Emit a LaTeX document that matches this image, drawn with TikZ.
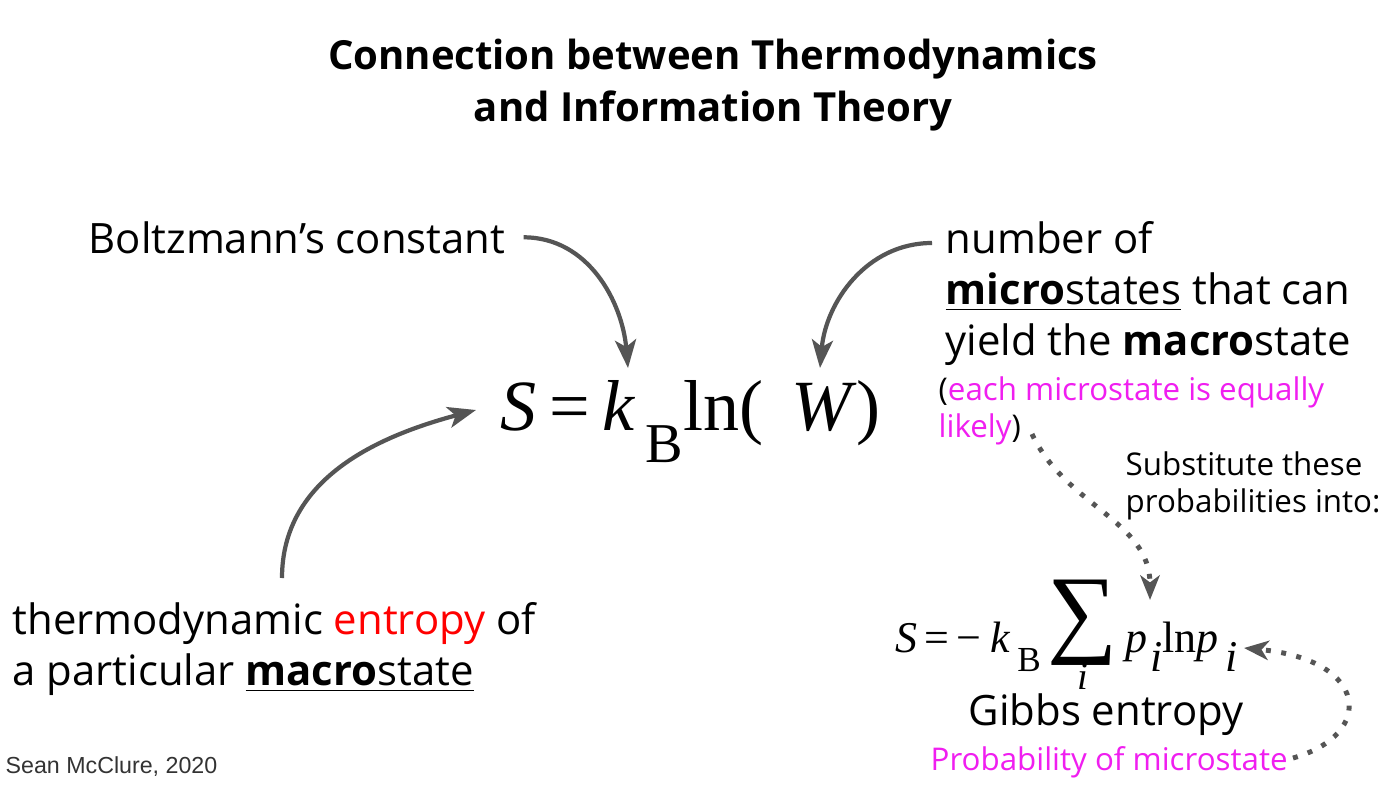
\documentclass[tikz,border=0pt]{standalone}
\usepackage{fontspec}
\setmainfont{Open Sans}
\newfontfamily\eqfont{Liberation Serif}
\newfontfamily\signfont{Liberation Sans}
\usetikzlibrary{arrows.meta}

\definecolor{arrowgray}{HTML}{555555}
\definecolor{notepink}{HTML}{F01EF0}
\definecolor{signgray}{HTML}{333333}

\tikzset{
  every node/.style={inner sep=0pt},
  bodytext/.style={font=\fontsize{11.9}{14.5}\selectfont, align=left, anchor=base west},
  smalltext/.style={font=\fontsize{8.9}{10.4}\selectfont, align=left, anchor=base west},
  curvearrow/.style={draw=arrowgray, line width=1.2pt, -{Stealth[length=8pt,width=6pt,inset=2pt]}},
  dotarrow/.style={draw=arrowgray, line width=1.4pt, dash pattern=on 1.4pt off 3pt,
    -{Stealth[length=7pt,width=5.5pt,inset=2pt]}},
}

\newcommand{\lowsub}[1]{\raisebox{-0.45em}{#1}}
\newcommand{\sumunder}{\raisebox{2pt}{\vtop{\offinterlineskip\halign{\hfil##\hfil\cr
  {\fontsize{28}{28}\selectfont ∑}\cr\noalign{\kern-0.5pt}{\fontsize{11}{11}\selectfont\textit{i}}\cr}}}}

\begin{document}
\begin{tikzpicture}[x=0.01cm,y=-0.01cm]
  \useasboundingbox[fill=white] (0,0) rectangle (1400,785);

  % title
  \node[font=\fontsize{11.4}{14.8}\selectfont\bfseries, align=center, anchor=base]
    (title) at (713,122) {Connection between Thermodynamics\\and Information Theory};

  % labels around the Boltzmann formula
  \node[bodytext] (boltz) at (88,253) {Boltzmann’s constant};
  \node[bodytext] (micro) at (945,355)
    {number of\\\underline{\textbf{micro}states} that can\\yield the \textbf{macro}state};
  \node[smalltext] (likely) at (938,437)
    {(\textcolor{notepink}{each microstate is equally}\\\textcolor{notepink}{likely})};
  \node[smalltext] (subst) at (1125,512) {Substitute these\\probabilities into:};
  \node[bodytext] (thermo) at (12,685)
    {thermodynamic \textcolor{red}{entropy} of\\a particular \underline{\textbf{macro}state}};

  % formulas
  \node[anchor=base west, font=\eqfont\fontsize{20.5}{20.5}\selectfont] (boltzeq) at (500,430)
    {\textit{S}\kern3.5pt=\kern3.5pt\textit{k}\kern3pt\lowsub{\fontsize{16}{16}\selectfont B}ln(\kern8pt\textit{W})};
  \node[anchor=base west, font=\eqfont\fontsize{12.5}{12.5}\selectfont] (gibbseq) at (895,652)
    {\textit{S}\kern2pt=\kern2pt−\kern2.5pt\textit{k}\kern2pt\lowsub{\fontsize{10}{10}\selectfont B}\kern2pt\sumunder
     \kern2pt\textit{p}\kern1pt\lowsub{\textit{i}}ln\textit{p}\kern2pt\lowsub{\textit{i}}};
  \node[bodytext] (gibbs) at (968,725) {Gibbs entropy};
  \node[smalltext, text=notepink] (prob) at (930,770) {Probability of microstate};
  \node[anchor=base west, font=\signfont\fontsize{6.6}{8}\selectfont, text=signgray]
    (sign) at (5,773) {Sean McClure, 2020};

  % arrow ends
  \coordinate (microStart) at (932,243);
  \coordinate (kTop) at (628,368);
  \coordinate (wTop) at (820,368);
  \coordinate (sLeft) at (476,410);
  \coordinate (thermoTop) at (282,578);
  \coordinate (likelyEnd) at (1032,434);
  \coordinate (sumTop) at (1150,600);
  \coordinate (probEnd) at (1293,758);
  \coordinate (lnpEnd) at (1244,648);

  \draw[curvearrow] ([xshift=5pt]boltz.east) to[out=0,in=95] (kTop);
  \draw[curvearrow] (microStart) to[out=180,in=85] (wTop);
  \draw[curvearrow] (thermoTop) to[out=90,in=195] (sLeft);
  \draw[dotarrow] (likelyEnd) to[out=-65,in=90] (sumTop);
  \draw[dotarrow] (probEnd) .. controls (1375,735) and (1370,660) .. (lnpEnd);
\end{tikzpicture}
\end{document}
